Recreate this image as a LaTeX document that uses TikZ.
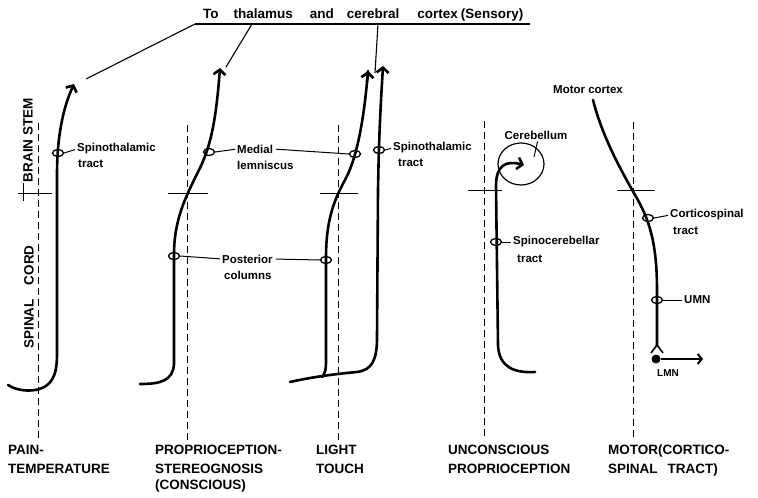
\documentclass[tikz,border=0pt]{standalone}
\usepackage{fontspec}
\setmainfont{Liberation Sans}
\usetikzlibrary{arrows.meta,shapes.geometric}
\begin{document}
\begin{tikzpicture}[x=1pt,y=-1pt,
  tract/.style={line width=2.6pt, line cap=round, line join=round},
  tractarrow/.style={tract,-{Straight Barb[length=5pt,width=12pt]}},
  midline/.style={line width=0.9pt, dash pattern=on 7pt off 4pt},
  tickline/.style={line width=1pt},
  loopmark/.style={draw, ellipse, line width=1.3pt, minimum width=11pt, minimum height=7pt, inner sep=0pt},
  lab/.style={font=\bfseries\fontsize{11.5}{13}\selectfont, inner sep=0pt, anchor=west},
  caption/.style={font=\bfseries\fontsize{13.5}{19}\selectfont, inner sep=0pt, anchor=north west, align=left},
  region/.style={font=\bfseries\fontsize{13.5}{16}\selectfont, inner sep=0pt, rotate=90},
  leader/.style={line width=1pt, shorten >=2pt}]
\useasboundingbox (0,0) rectangle (758,498);

% title and bar
\node[font=\bfseries\fontsize{13.5}{15}\selectfont, inner sep=0pt, anchor=base west] (title) at (203,18)
  {To\hspace{15pt}thalamus\hspace{17pt}and\hspace{13pt}cerebral\hspace{18pt}cortex\hspace{3pt}(Sensory)};
\coordinate (barL) at (195,24);
\coordinate (barR) at (530,24);
\draw[line width=1.1pt] (barL) -- (barR);
\coordinate (bar2) at (252,24);
\coordinate (bar3) at (378,24);
\coordinate (tipPain) at (86,79);
\coordinate (tipProp) at (226,67);
\coordinate (tipLT) at (375,73);
\draw[line width=1.1pt] (barL) -- (tipPain);
\draw[line width=1.1pt] (bar2) -- (tipProp);
\draw[line width=1.1pt] (bar3) -- (tipLT);

% region labels
\node[region] (bstem) at (28,140) {BRAIN STEM};
\node[region] (scord) at (29,297) {SPINAL\hspace{14pt}CORD};
\draw[tickline] (23,183) -- (23,201);

% dashed midlines
\draw[midline] (38,123) -- (38,440);
\draw[midline] (187,125) -- (187,440);
\draw[midline] (338,125) -- (338,440);
\draw[midline] (484,121) -- (484,440);
\draw[midline] (633,122) -- (633,440);

% brainstem / cord boundary ticks
\draw[tickline] (18,193) -- (52,193);
\draw[tickline] (168,193) -- (208,193);
\draw[tickline] (320,193) -- (358,193);
\draw[tickline] (468,190) -- (502,190);
\draw[tickline] (617,190) -- (655,190);

% pain-temperature tract
\draw[tractarrow] (8,385) .. controls (18,392) and (42,394) .. (51,381)
  .. controls (56,374) and (57,366) .. (57,352) -- (57,175)
  .. controls (57,140) and (62,110) .. (74,84);

% proprioception tract
\draw[tractarrow] (140,384) .. controls (160,384) and (173,381) .. (174,364) -- (174,255)
  .. controls (174,220) and (185,198) .. (199,170)
  .. controls (211,146) and (216,120) .. (220,68);

% light touch tracts
\draw[tract] (290,382) .. controls (312,377) and (335,374) .. (357,372)
  .. controls (372,370) and (377,360) .. (377,338) -- (378,190);
\draw[tractarrow] (378,190) .. controls (379,130) and (381,100) .. (383,66);
\draw[tract] (322,377) .. controls (325,374) and (326,370) .. (326,360) -- (326,258)
  .. controls (326,222) and (333,202) .. (345,180)
  .. controls (357,158) and (364,120) .. (368,71);
\draw[tractarrow] (367,82) -- (368,71);

% unconscious proprioception tract
\node[draw, ellipse, line width=1.2pt, minimum width=46pt, minimum height=42pt, inner sep=0pt] (cbc) at (521,164) {};
\draw[tractarrow] (535,372) .. controls (515,373) and (499,368) .. (498,345) -- (496,186)
  .. controls (496,166) and (505,160) .. (524,165);

% motor tract
\draw[tract] (593,100) .. controls (602,135) and (618,165) .. (635,195)
  .. controls (650,220) and (657,245) .. (657,290) -- (657,346);
\coordinate (fork) at (657,345);
\coordinate (forkL) at (651,353);
\coordinate (forkR) at (663,353);
\draw[line width=1.6pt] (forkL) -- (fork) -- (forkR);
\node[circle, fill, inner sep=0pt, minimum size=9pt] (lmndot) at (656,359) {};
\coordinate (lmnend) at (703,359);
\draw[line width=2pt, -{Straight Barb[length=4pt,width=10pt]}] (lmndot) -- (lmnend);

% loop markers
\node[loopmark] (L1) at (58,153) {};
\node[loopmark] (L2) at (209,152) {};
\node[loopmark] (L3) at (174,256) {};
\node[loopmark] (L4) at (355,154) {};
\node[loopmark] (L5) at (326,260) {};
\node[loopmark] (L6) at (379,150) {};
\node[loopmark] (L7) at (496,242) {};
\node[loopmark] (L8) at (648,218) {};
\node[loopmark] (L9) at (657,300) {};

% labels
\node[lab] (st1a) at (77,149) {Spinothalamic};
\node[lab] (st1b) at (78,164) {tract};
\node[lab] (ml1) at (237,149) {Medial};
\node[lab] (ml2) at (237,165) {lemniscus};
\node[lab] (pc1) at (222,259) {Posterior};
\node[lab] (pc2) at (224,275) {columns};
\node[lab] (st2a) at (393,148) {Spinothalamic};
\node[lab] (st2b) at (398,163) {tract};
\node[lab, anchor=center] (cb) at (536,135) {Cerebellum};
\node[lab] (sc1) at (513,242) {Spinocerebellar};
\node[lab] (sc2) at (517,259) {tract};
\node[lab] (cs1) at (670,215) {Corticospinal};
\node[lab] (cs2) at (673,231) {tract};
\node[lab] (umn) at (684,300) {UMN};
\node[lab, anchor=center, font=\bfseries\fontsize{10}{12}\selectfont] (lmn) at (668,373) {LMN};
\node[lab, anchor=center] (mc) at (588,90) {Motor cortex};

% leaders
\draw[leader] (L1.east) -- (st1a.west);
\draw[leader] (L2.east) -- (ml1.west);
\draw[leader, shorten <=3pt, shorten >=0pt] (ml1.east) -- (L4.west);
\draw[leader] (L3.east) -- (pc1.west);
\draw[leader, shorten <=3pt, shorten >=0pt] (pc1.east) -- (L5.west);
\draw[leader] (L6.east) -- (st2a.west);
\draw[leader] (L7.east) -- (sc1.west);
\draw[leader] (L8.east) -- (cs1.west);
\draw[leader] (L9.east) -- (umn.west);
\coordinate (cbp) at (534,157);
\draw[line width=1pt, shorten <=2pt] ([xshift=2pt]cb.south) -- (cbp);

% bottom captions
\node[caption] (c1) at (8,445) {PAIN-\\TEMPERATURE};
\node[caption] (c2) at (155,445) {PROPRIOCEPTION-\\STEREOGNOSIS\\[-3pt](CONSCIOUS)};
\node[caption] (c3) at (316,445) {LIGHT\\TOUCH};
\node[caption] (c4) at (448,445) {UNCONSCIOUS\\PROPRIOCEPTION};
\node[caption] (c5) at (608,445) {MOTOR(CORTICO-\\SPINAL\hspace{10pt}TRACT)};
\end{tikzpicture}
\end{document}
